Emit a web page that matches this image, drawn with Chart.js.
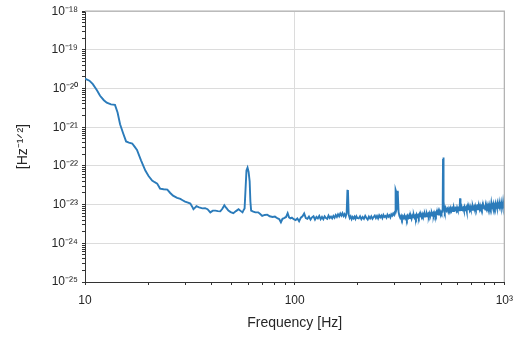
<!DOCTYPE html>
<html>
<head>
<meta charset="utf-8">
<script src="https://cdn.jsdelivr.net/npm/chart.js@4/dist/chart.umd.min.js"></script>
<style>
  html, body { margin: 0; padding: 0; background: #fff; }
</style>
</head>
<body>
<canvas id="asdChart" width="521" height="337"></canvas>
<script>
// amplitude spectral density, values in units of 1e-24 Hz^-1/2
const UNIT = 1e-24;

const freqLow = [10, 10.5, 10.9, 11.4, 11.8, 12.3, 12.7, 13.3, 13.9, 14.3,
  14.7, 15.2, 15.7, 16.2, 16.8, 17.2, 17.7, 18.5, 19.4, 20.1,
  20.9, 21.5, 22.1, 22.8, 23.7, 24.7, 25.5, 26.3, 27.5, 28.5,
  29.2, 30, 31, 31.8, 32.4, 32.9, 33.5, 34, 35, 36.3,
  37.4, 38.4, 39.6, 40.7, 41.9, 43, 44.2, 45.2, 46.2, 47.2,
  48.3, 49.5, 51, 52.5, 54, 55.2, 56.4, 57.2, 57.7, 58.3,
  58.9, 59.6, 60.3, 61, 61.5, 62, 63.5, 65, 67, 68.5,
  70, 72, 74, 76, 78.5, 80.5, 83, 84.5, 86, 87.5,
  89, 91, 92.6, 94, 95.5, 97, 99];
const asdLow = [18000, 16000, 13000, 9000, 6500, 5000, 4300, 3900, 3800, 2400,
  1200, 700, 430, 400, 380, 320, 260, 140, 76, 55,
  42, 38, 35, 26, 25, 24.5, 20, 17, 15, 14,
  13, 12, 11.3, 10.7, 9, 7.6, 8.4, 9.1, 8.5, 8.0,
  8.1, 7.6, 6.3, 7.0, 7.0, 6.8, 6.7, 7.8, 9.6, 8.2,
  7.0, 6.4, 6.0, 6.8, 7.6, 6.9, 6.3, 7.4, 8.0, 25,
  76, 90, 70, 40, 12, 7.0, 6.6, 6.3, 6.3, 5.7,
  5.1, 5.4, 5.5, 5.0, 4.8, 4.9, 4.4, 4.2, 3.5, 4.3,
  4.5, 4.8, 6.0, 4.7, 4.4, 4.6, 4.2];

const freqMid = [101, 103, 105, 107, 109, 111, 113, 115, 117, 119,
  121, 123, 125, 127, 129, 131, 133, 135, 137, 139,
  141, 143, 145, 147, 149, 151, 153, 155, 157, 159,
  161, 163, 165, 167, 169, 171, 173, 175, 177, 178.5,
  179.5, 181, 183, 185, 187, 189, 191, 193, 195, 197,
  199];
const asdMid = [4.0, 4.4, 3.7, 4.6, 5.0, 5.9, 4.5, 4.3, 4.9, 4.1,
  4.7, 5.0, 4.1, 4.8, 4.4, 5.1, 4.2, 4.8, 4.2, 5.0,
  4.5, 4.3, 5.2, 4.5, 4.9, 4.4, 5.1, 4.6, 5.4, 4.8,
  5.6, 5.0, 5.9, 5.2, 6.0, 5.1, 5.7, 4.9, 6.0, 23,
  24, 5.5, 4.5, 5.0, 4.2, 4.8, 4.4, 4.9, 4.3, 5.0,
  4.5];

const freqHigh1 = [202, 205, 208, 211, 214, 217, 220, 223, 226, 229,
  232, 235, 238, 241, 244, 247, 250, 253, 256, 259,
  262, 265, 268, 271, 274, 277, 280, 283, 286, 289,
  292, 295, 298, 301, 303, 304.5, 306, 308, 309.5, 311,
  313, 316, 319, 322, 325, 328, 331, 334, 337, 340,
  343, 346, 349, 352, 355, 358, 361, 364, 367, 370,
  373, 376, 379, 382, 385, 388, 391, 394, 397, 400,
  403, 406, 409, 412, 415, 418, 421, 424, 427, 430,
  433, 436, 439, 442, 445, 448, 451, 454, 457, 460,
  463, 466, 469, 472, 475, 478, 481, 484, 487, 490,
  493, 496, 499];
const asdHigh1 = [4.4, 5.0, 4.2, 4.8, 4.3, 5.1, 4.5, 4.1, 4.9, 4.4,
  5.0, 4.3, 4.8, 5.2, 4.5, 5.1, 4.4, 5.3, 4.7, 5.2,
  4.5, 5.4, 4.8, 5.1, 4.6, 5.5, 4.9, 5.3, 4.7, 5.6,
  5.2, 5.9, 5.4, 6.6, 24, 22, 7.5, 8.5, 23, 21,
  6.5, 5.1, 4.5, 5.1, 4.3, 5.0, 4.5, 5.2, 4.4, 4.9,
  4.2, 5.1, 4.6, 5.3, 4.5, 5.0, 4.3, 5.2, 4.7, 5.4,
  4.6, 5.1, 4.5, 5.5, 4.9, 5.3, 4.7, 5.6, 5.0, 5.4,
  4.8, 5.7, 5.1, 5.6, 4.9, 5.8, 5.2, 5.0, 5.9, 5.3,
  5.7, 5.1, 6.0, 5.4, 5.8, 5.2, 6.1, 5.5, 5.9, 5.3,
  6.2, 5.6, 6.0, 5.4, 6.3, 5.7, 6.1, 5.5, 6.4, 5.8,
  6.2, 5.6, 6.5];

const freqHigh2 = [502, 505, 508, 510, 512, 514, 517, 520, 525, 530,
  535, 540, 545, 550, 555, 560, 565, 570, 575, 580,
  585, 590, 595, 600, 605, 610, 613, 615, 617, 619,
  622, 627, 632, 637, 642, 647, 652, 657, 662, 667,
  672, 677, 682, 687, 692, 697, 702, 707, 712, 717,
  722, 727, 732, 737, 742, 747, 752, 757, 762, 767,
  772, 777, 782, 787, 792, 797, 802, 807, 812, 817,
  822, 827, 832, 837, 842, 847, 852, 857, 862, 867,
  872, 877, 882, 887, 892, 897, 902, 907, 912, 917,
  922, 927, 932, 937, 942, 947, 952, 957, 962, 967,
  972, 977, 982, 987, 992, 997, 1000];
const asdHigh2 = [6.0, 6.6, 7.2, 150, 165, 12, 7.8, 6.7, 8.2, 7.0,
  7.8, 6.6, 8.1, 7.2, 8.3, 6.9, 7.9, 6.8, 8.4, 7.3,
  8.0, 7.0, 8.5, 7.4, 8.1, 7.1, 9.0, 14.5, 14, 8.5,
  7.2, 8.6, 7.5, 8.2, 7.0, 8.7, 7.6, 8.3, 6.8, 8.8,
  7.7, 8.4, 7.3, 9.0, 7.8, 8.5, 7.4, 9.1, 7.9, 8.6,
  7.5, 9.2, 8.0, 8.7, 7.6, 10.2, 8.1, 8.8, 7.7, 9.4,
  8.2, 8.9, 7.8, 9.5, 8.3, 9.0, 7.9, 9.6, 7.5, 9.1,
  8.0, 9.8, 8.5, 9.2, 8.1, 9.9, 8.6, 9.3, 8.2, 10.9,
  8.7, 9.4, 8.3, 10.2, 8.8, 9.5, 8.4, 10.4, 8.9, 9.7,
  8.5, 10.6, 9.0, 9.8, 7.9, 10.8, 9.1, 9.9, 8.7, 11.0,
  9.2, 10.0, 8.8, 11.6, 9.3, 10.2, 9.5];

// axis ticks
const xTicks = [10, 20, 30, 40, 50, 60, 70, 80, 90,
  100, 200, 300, 400, 500, 600, 700, 800, 900, 1000];
const xLabels = { 10: '10', 100: '100', 1000: '10\u00b3' };
const yDecades = [-25, -24, -23, -22, -21, -20, -19, -18];
const yTicks = [];
yDecades.forEach(e => {
  const m = e === -18 ? [1] : [1, 2, 3, 4, 5, 6, 7, 8, 9];
  m.forEach(k => yTicks.push(k * Math.pow(10, e)));
});

const SUP = { '-': '\u207b', '0': '\u2070', '1': '\u00b9', '2': '\u00b2', '3': '\u00b3',
  '4': '\u2074', '5': '\u2075', '6': '\u2076', '7': '\u2077', '8': '\u2078', '9': '\u2079' };
const sup = s => String(s).split('').map(c => SUP[c]).join('');

const isDecade = v => {
  const e = Math.log10(v);
  return Math.abs(e - Math.round(e)) < 1e-6;
};

const freq = [...freqLow, ...freqMid, ...freqHigh1, ...freqHigh2];
const asd = [...asdLow, ...asdMid, ...asdHigh1, ...asdHigh2];

const FONT = 'Liberation Sans, Arial, sans-serif';
const TEXT = '#262626';

// grey top/right spines
const framePlugin = {
  id: 'frame',
  afterDatasetsDraw(chart) {
    const { ctx, chartArea: a } = chart;
    ctx.save();
    ctx.strokeStyle = '#b0b0b0';
    ctx.lineWidth = 1.2;
    ctx.beginPath();
    ctx.moveTo(a.left, a.top);
    ctx.lineTo(a.right, a.top);
    ctx.lineTo(a.right, a.bottom);
    ctx.stroke();
    ctx.restore();
  }
};

new Chart(document.getElementById('asdChart'), {
  type: 'line',
  data: {
    datasets: [{
      data: freq.map((f, i) => ({ x: f, y: asd[i] * UNIT })),
      borderColor: '#2b7bba',
      borderWidth: 1.9,
      pointRadius: 0,
      tension: 0,
      fill: false
    }]
  },
  options: {
    responsive: false,
    devicePixelRatio: 1,
    animation: false,
    layout: { padding: { top: 3, right: 9, left: 0, bottom: 0 } },
    plugins: {
      legend: { display: false },
      tooltip: { enabled: false }
    },
    scales: {
      x: {
        type: 'logarithmic',
        min: 10,
        max: 1000,
        afterBuildTicks: axis => { axis.ticks = xTicks.map(v => ({ value: v })); },
        afterFit: axis => { axis.height = 55; },
        border: { display: true, color: '#333333', width: 1 },
        grid: {
          color: ctx => (ctx.tick && isDecade(ctx.tick.value)) ? '#dcdcdc' : 'rgba(0,0,0,0)',
          tickColor: '#333333',
          tickLength: 3,
          drawTicks: true
        },
        ticks: {
          autoSkip: false,
          maxRotation: 0,
          padding: 8,
          color: TEXT,
          font: { family: FONT, size: 12 },
          callback: v => xLabels[v] || ''
        },
        title: {
          display: true,
          text: 'Frequency [Hz]',
          color: TEXT,
          font: { family: FONT, size: 14 },
          padding: { top: 0, bottom: 5 }
        }
      },
      y: {
        type: 'logarithmic',
        min: 1e-25,
        max: 1e-18,
        afterBuildTicks: axis => { axis.ticks = yTicks.map(v => ({ value: v })); },
        afterFit: axis => { axis.width = 85; },
        border: { display: true, color: '#333333', width: 1 },
        grid: {
          color: ctx => (ctx.tick && isDecade(ctx.tick.value)) ? '#dcdcdc' : 'rgba(0,0,0,0)',
          tickColor: '#333333',
          tickLength: 3,
          drawTicks: true
        },
        ticks: {
          autoSkip: false,
          padding: 4,
          color: TEXT,
          font: { family: FONT, size: 12 },
          callback: v => isDecade(v) ? '10' + sup(Math.round(Math.log10(v))) : ''
        },
        title: {
          display: true,
          text: '[Hz\u207b\u00b9\u141f\u00b2]',
          color: TEXT,
          font: { family: FONT, size: 14 },
          padding: { top: 15, bottom: 0 }
        }
      }
    }
  },
  plugins: [framePlugin]
});
</script>
</body>
</html>
